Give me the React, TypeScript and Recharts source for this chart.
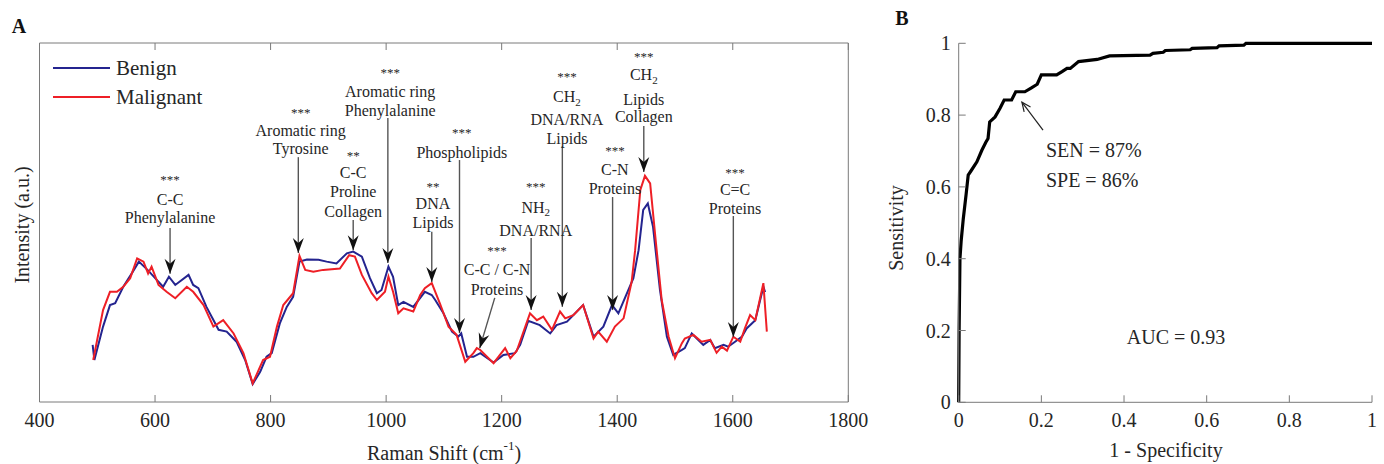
import React from 'react';
import { LineChart, Line, XAxis, YAxis, ReferenceLine, ReferenceDot, Legend } from 'recharts';

const FONT = '"Liberation Serif", "DejaVu Serif", "Times New Roman", serif';
const AXIS_COLOR = '#7a7a7a';
const TEXT_COLOR = '#262626';
const BLUE = '#24248f';
const RED = '#ee1f26';

// ---------- Panel A data (Raman shift in cm-1, intensity in a.u.) ----------
const benignShift = [492, 495, 510, 522, 531, 545, 560, 572, 587, 603, 614, 624, 635, 658, 666, 675, 689, 710, 724, 741, 756, 769, 782, 793, 802, 816, 828, 839, 850, 863, 883, 897, 914, 932, 943, 958, 972, 984, 992, 1004, 1012, 1021, 1030, 1047, 1067, 1079, 1085, 1099, 1114, 1125, 1130, 1140, 1151, 1163, 1186, 1203, 1223, 1232, 1246, 1266, 1284, 1295, 1313, 1341, 1359, 1376, 1391, 1402, 1428, 1437, 1445, 1453, 1462, 1474, 1486, 1497, 1512, 1517, 1529, 1549, 1561, 1569, 1584, 1592, 1604, 1616, 1624, 1639, 1653, 1656];
const benignIntensity = [0.159, 0.117, 0.210, 0.270, 0.275, 0.321, 0.359, 0.391, 0.368, 0.340, 0.321, 0.349, 0.326, 0.354, 0.326, 0.317, 0.265, 0.201, 0.196, 0.168, 0.117, 0.050, 0.084, 0.126, 0.136, 0.219, 0.265, 0.293, 0.391, 0.397, 0.396, 0.391, 0.386, 0.414, 0.419, 0.405, 0.345, 0.303, 0.312, 0.377, 0.349, 0.270, 0.279, 0.265, 0.307, 0.298, 0.284, 0.248, 0.196, 0.182, 0.191, 0.126, 0.126, 0.136, 0.110, 0.131, 0.136, 0.159, 0.226, 0.214, 0.191, 0.214, 0.224, 0.270, 0.182, 0.210, 0.270, 0.247, 0.345, 0.423, 0.535, 0.553, 0.488, 0.312, 0.182, 0.131, 0.145, 0.150, 0.191, 0.159, 0.173, 0.150, 0.159, 0.154, 0.168, 0.182, 0.205, 0.228, 0.321, 0.306];

const malignantShift = [493, 510, 522, 534, 545, 557, 569, 580, 588, 594, 606, 620, 635, 655, 666, 684, 701, 718, 736, 753, 769, 787, 799, 811, 822, 839, 850, 860, 874, 891, 920, 936, 946, 958, 975, 984, 998, 1004, 1012, 1021, 1030, 1047, 1059, 1067, 1079, 1093, 1108, 1122, 1137, 1151, 1157, 1163, 1186, 1206, 1215, 1226, 1249, 1261, 1272, 1287, 1301, 1310, 1324, 1341, 1359, 1367, 1382, 1396, 1411, 1425, 1431, 1440, 1448, 1457, 1466, 1477, 1489, 1500, 1512, 1517, 1532, 1546, 1561, 1572, 1581, 1590, 1601, 1613, 1621, 1630, 1639, 1653, 1659];
const malignantIntensity = [0.117, 0.256, 0.307, 0.307, 0.321, 0.345, 0.400, 0.391, 0.358, 0.377, 0.326, 0.307, 0.289, 0.321, 0.307, 0.270, 0.210, 0.228, 0.191, 0.136, 0.052, 0.117, 0.126, 0.210, 0.270, 0.303, 0.407, 0.368, 0.363, 0.368, 0.372, 0.409, 0.405, 0.354, 0.303, 0.284, 0.307, 0.349, 0.307, 0.247, 0.261, 0.252, 0.298, 0.317, 0.331, 0.275, 0.210, 0.187, 0.112, 0.136, 0.150, 0.145, 0.108, 0.150, 0.122, 0.142, 0.247, 0.228, 0.238, 0.201, 0.252, 0.233, 0.242, 0.270, 0.177, 0.196, 0.168, 0.210, 0.233, 0.335, 0.423, 0.591, 0.630, 0.609, 0.460, 0.284, 0.182, 0.122, 0.164, 0.177, 0.187, 0.168, 0.173, 0.137, 0.154, 0.143, 0.182, 0.168, 0.205, 0.242, 0.228, 0.331, 0.196];

const shiftTicks = [400, 600, 800, 1000, 1200, 1400, 1600, 1800];

// Peak annotations (data coordinates)
const annotations = [
  { tx: 626, from: [626, 0.485], to: [626, 0.357], angle: 0, lines: [{ t: '***', y: 0.627 }, { t: 'C-C', y: 0.565 }, { t: 'Phenylalanine', y: 0.515 }] },
  { tx: 852, from: [848, 0.682], to: [848, 0.415], angle: 0, lines: [{ t: '***', y: 0.816 }, { t: 'Aromatic ring', y: 0.755 }, { t: 'Tyrosine', y: 0.705 }] },
  { tx: 943, from: [943, 0.507], to: [943, 0.423], angle: 0, lines: [{ t: '**', y: 0.696 }, { t: 'C-C', y: 0.638 }, { t: 'Proline', y: 0.585 }, { t: 'Collagen', y: 0.532 }] },
  { tx: 1007, from: [1003, 0.791], to: [1003, 0.387], angle: 0, lines: [{ t: '***', y: 0.925 }, { t: 'Aromatic ring', y: 0.864 }, { t: 'Phenylalanine', y: 0.813 }] },
  { tx: 1081, from: [1079, 0.474], to: [1079, 0.334], angle: 0, lines: [{ t: '**', y: 0.610 }, { t: 'DNA', y: 0.552 }, { t: 'Lipids', y: 0.499 }] },
  { tx: 1131, from: [1127, 0.674], to: [1127, 0.192], angle: 0, lines: [{ t: '***', y: 0.758 }, { t: 'Phospholipids', y: 0.696 }] },
  { tx: 1192, from: [1188, 0.290], to: [1162, 0.150], angle: 16.7, lines: [{ t: '***', y: 0.429 }, { t: 'C-C / C-N', y: 0.368 }, { t: 'Proteins', y: 0.312 }] },
  { tx: 1259, from: [1251, 0.457], to: [1251, 0.256], angle: 0, lines: [{ t: '***', y: 0.610 }, { t: 'NH', sub: '2', y: 0.543 }, { t: 'DNA/RNA', y: 0.479 }] },
  { tx: 1313, from: [1305, 0.713], to: [1305, 0.265], angle: 0, lines: [{ t: '***', y: 0.914 }, { t: 'CH', sub: '2', y: 0.850 }, { t: 'DNA/RNA', y: 0.786 }, { t: 'Lipids', y: 0.735 }] },
  { tx: 1396, from: [1392, 0.571], to: [1392, 0.256], angle: 0, lines: [{ t: '***', y: 0.710 }, { t: 'C-N', y: 0.649 }, { t: 'Proteins', y: 0.596 }] },
  { tx: 1446, from: [1446, 0.769], to: [1446, 0.641], angle: 0, lines: [{ t: '***', y: 0.972 }, { t: 'CH', sub: '2', y: 0.911 }, { t: 'Lipids', y: 0.844 }, { t: 'Collagen', y: 0.794 }] },
  { tx: 1604, from: [1601, 0.518], to: [1601, 0.181], angle: 0, lines: [{ t: '***', y: 0.649 }, { t: 'C=C', y: 0.591 }, { t: 'Proteins', y: 0.540 }] },
];

// ---------- Panel B data (ROC) ----------
const rocFpr = [0, 0.001, 0.003, 0.006, 0.011, 0.018, 0.023, 0.030, 0.044, 0.056, 0.066, 0.071, 0.075, 0.088, 0.100, 0.110, 0.128, 0.138, 0.160, 0.175, 0.190, 0.200, 0.237, 0.250, 0.262, 0.270, 0.290, 0.335, 0.365, 0.463, 0.470, 0.495, 0.500, 0.560, 0.565, 0.625, 0.630, 0.690, 0.695, 1.0];
const rocTpr = [0, 0.200, 0.400, 0.450, 0.510, 0.580, 0.633, 0.645, 0.670, 0.702, 0.725, 0.735, 0.781, 0.795, 0.819, 0.842, 0.842, 0.865, 0.865, 0.875, 0.886, 0.912, 0.912, 0.921, 0.930, 0.930, 0.949, 0.955, 0.965, 0.967, 0.972, 0.975, 0.980, 0.982, 0.986, 0.988, 0.993, 0.995, 1.0, 1.0];
const rocTicks = [0, 0.2, 0.4, 0.6, 0.8, 1];

const benignData = benignShift.map((x, i) => ({ x, y: benignIntensity[i] }));
const malignantData = malignantShift.map((x, i) => ({ x, y: malignantIntensity[i] }));
const rocData = rocFpr.map((x, i) => ({ x, y: rocTpr[i] }));

function BottomTick(props: any) {
  const { x, y, payload } = props;
  return (
    <g>
      <line x1={x} y1={y} x2={x} y2={y - 7} stroke={AXIS_COLOR} strokeWidth={1} />
      <text x={x} y={y + 18} textAnchor="middle" dominantBaseline="central" fontFamily={FONT} fontSize={20} fill={TEXT_COLOR}>
        {String(payload.value)}
      </text>
    </g>
  );
}

function TopTick(props: any) {
  const { x, y } = props;
  return <line x1={x} y1={y} x2={x} y2={y + 7} stroke={AXIS_COLOR} strokeWidth={1} />;
}

function LeftTick(props: any) {
  const { x, y, payload } = props;
  return (
    <g>
      <line x1={x} y1={y} x2={x + 7} y2={y} stroke={AXIS_COLOR} strokeWidth={1} />
      <text x={x - 8} y={y} textAnchor="end" dominantBaseline="central" fontFamily={FONT} fontSize={20} fill={TEXT_COLOR}>
        {String(payload.value)}
      </text>
    </g>
  );
}

function makeTextShape(text: string, sub: string | undefined, anchor: string, size: number) {
  return (p: any) => (
    <text x={p.cx} y={p.cy + (text.startsWith('*') ? 3 : 0)} textAnchor={anchor as any} dominantBaseline="central" fontFamily={FONT} fontSize={text.startsWith('*') ? 13 : size} fill={TEXT_COLOR}>
      {text}
      {sub ? (
        <tspan fontSize={11} dy={5}>{sub}</tspan>
      ) : null}
    </text>
  );
}

function makeArrowHead(angle: number) {
  return (p: any) => (
    <polygon
      points="0,0 -5.5,-15 0,-10 5.5,-15"
      transform={`translate(${p.cx},${p.cy}) rotate(${angle})`}
      fill="#111"
      stroke="none"
    />
  );
}

function makeOpenHead(angle: number) {
  return (p: any) => (
    <polyline
      points="-4,-9 0,0 4,-9"
      transform={`translate(${p.cx},${p.cy}) rotate(${angle})`}
      fill="none"
      stroke="#222"
      strokeWidth={1.2}
    />
  );
}

function LegendContent() {
  return (
    <svg width={220} height={60} style={{ display: 'block', overflow: 'visible' }}>
      <line x1={0} y1={15} x2={57} y2={15} stroke={BLUE} strokeWidth={2} />
      <text x={63} y={15} dominantBaseline="central" fontFamily={FONT} fontSize={21} fill={TEXT_COLOR}>Benign</text>
      <line x1={0} y1={44} x2={57} y2={44} stroke={RED} strokeWidth={2} />
      <text x={63} y={44} dominantBaseline="central" fontFamily={FONT} fontSize={21} fill={TEXT_COLOR}>Malignant</text>
    </svg>
  );
}

function PanelA() {
  return (
    <LineChart width={880} height={464} margin={{ top: 42, right: 30.7, bottom: 22, left: 38.5 }}>
      <XAxis
        xAxisId={0}
        type="number"
        dataKey="x"
        domain={[400, 1800]}
        ticks={shiftTicks}
        interval={0}
        height={40}
        tickSize={0}
        tickMargin={0}
        tickLine={false}
        axisLine={{ stroke: AXIS_COLOR }}
        tick={<BottomTick />}
        allowDataOverflow
      />
      <XAxis
        xAxisId="top"
        orientation="top"
        type="number"
        dataKey="x"
        domain={[400, 1800]}
        ticks={shiftTicks}
        interval={0}
        height={1}
        tickSize={0}
        tickMargin={0}
        tickLine={false}
        axisLine={{ stroke: AXIS_COLOR }}
        tick={<TopTick />}
        allowDataOverflow
      />
      <YAxis yAxisId={0} type="number" domain={[0, 1]} width={1} tick={false} tickLine={false} axisLine={{ stroke: AXIS_COLOR }} allowDataOverflow />
      <YAxis yAxisId="right" orientation="right" type="number" domain={[0, 1]} width={1} tick={false} tickLine={false} axisLine={{ stroke: AXIS_COLOR }} />
      <Legend
        layout="horizontal"
        verticalAlign="middle"
        align="center"
        wrapperStyle={{ left: 53, top: 53, width: 220, height: 60 }}
        content={() => <LegendContent />}
      />
      <Line data={benignData} dataKey="y" type="linear" stroke={BLUE} strokeWidth={2} dot={false} isAnimationActive={false} name="Benign" />
      <Line data={malignantData} dataKey="y" type="linear" stroke={RED} strokeWidth={2} dot={false} isAnimationActive={false} name="Malignant" />
      {annotations.map((a, i) => (
        <ReferenceLine
          key={`al${i}`}
          segment={[{ x: a.from[0], y: a.from[1] }, { x: a.to[0], y: a.to[1] }]}
          stroke="#555"
          strokeWidth={1.4}
        />
      ))}
      {annotations.map((a, i) => (
        <ReferenceDot key={`ah${i}`} x={a.to[0]} y={a.to[1]} r={0} shape={makeArrowHead(a.angle)} />
      ))}
      {annotations.map((a, i) =>
        a.lines.map((l, j) => (
          <ReferenceDot key={`at${i}_${j}`} x={a.tx} y={l.y} r={0} shape={makeTextShape(l.t, (l as any).sub, 'middle', 16)} />
        ))
      )}
    </LineChart>
  );
}

function PanelB() {
  return (
    <LineChart width={504} height={464} margin={{ top: 43.3, right: 12, bottom: 21.7, left: 18.7 }}>
      <XAxis
        type="number"
        dataKey="x"
        domain={[0, 1]}
        ticks={rocTicks}
        interval={0}
        height={40}
        tickSize={0}
        tickMargin={0}
        tickLine={false}
        axisLine={{ stroke: AXIS_COLOR }}
        tick={<BottomTick />}
      />
      <YAxis
        type="number"
        domain={[0, 1]}
        ticks={rocTicks}
        interval={0}
        width={60}
        tickSize={0}
        tickMargin={0}
        tickLine={false}
        axisLine={{ stroke: AXIS_COLOR }}
        tick={<LeftTick />}
      />
      <Line data={rocData} dataKey="y" type="linear" stroke="#000" strokeWidth={3.2} dot={false} isAnimationActive={false} />
      <ReferenceLine segment={[{ x: 0.204, y: 0.758 }, { x: 0.153, y: 0.836 }]} stroke="#222" strokeWidth={1.2} />
      <ReferenceDot x={0.153} y={0.836} r={0} shape={makeOpenHead(143.1)} />
      <ReferenceDot x={0.211} y={0.703} r={0} shape={makeTextShape('SEN = 87%', undefined, 'start', 20)} />
      <ReferenceDot x={0.211} y={0.619} r={0} shape={makeTextShape('SPE = 86%', undefined, 'start', 20)} />
      <ReferenceDot x={0.526} y={0.183} r={0} shape={makeTextShape('AUC = 0.93', undefined, 'middle', 20)} />
    </LineChart>
  );
}

export default function App() {
  return (
    <div style={{ position: 'absolute', left: 0, top: 0, width: 1384, height: 464, background: '#fff', fontFamily: FONT }}>
      <div style={{ position: 'absolute', left: 0, top: 0 }}>
        <PanelA />
      </div>
      <div style={{ position: 'absolute', left: 880, top: 0 }}>
        <PanelB />
      </div>
      <svg width={1384} height={464} style={{ position: 'absolute', left: 0, top: 0, pointerEvents: 'none' }}>
        <text x={19} y={26} textAnchor="middle" dominantBaseline="central" fontFamily={FONT} fontSize={20} fontWeight="bold" fill="#111">A</text>
        <text x={902} y={18} textAnchor="middle" dominantBaseline="central" fontFamily={FONT} fontSize={20} fontWeight="bold" fill="#111">B</text>
        <text x={444} y={453} textAnchor="middle" dominantBaseline="central" fontFamily={FONT} fontSize={20} fill={TEXT_COLOR}>
          Raman Shift (cm<tspan fontSize={13} dy={-8}>-1</tspan><tspan dy={8}>)</tspan>
        </text>
        <text x={22} y={225} textAnchor="middle" dominantBaseline="central" fontFamily={FONT} fontSize={20} fill={TEXT_COLOR} transform="rotate(-90 22 225)">
          Intensity (a.u.)
        </text>
        <text x={1166} y={450} textAnchor="middle" dominantBaseline="central" fontFamily={FONT} fontSize={20} fill={TEXT_COLOR}>
          1 - Specificity
        </text>
        <text x={896} y={228} textAnchor="middle" dominantBaseline="central" fontFamily={FONT} fontSize={20} fill={TEXT_COLOR} transform="rotate(-90 896 228)">
          Sensitivity
        </text>
      </svg>
    </div>
  );
}
